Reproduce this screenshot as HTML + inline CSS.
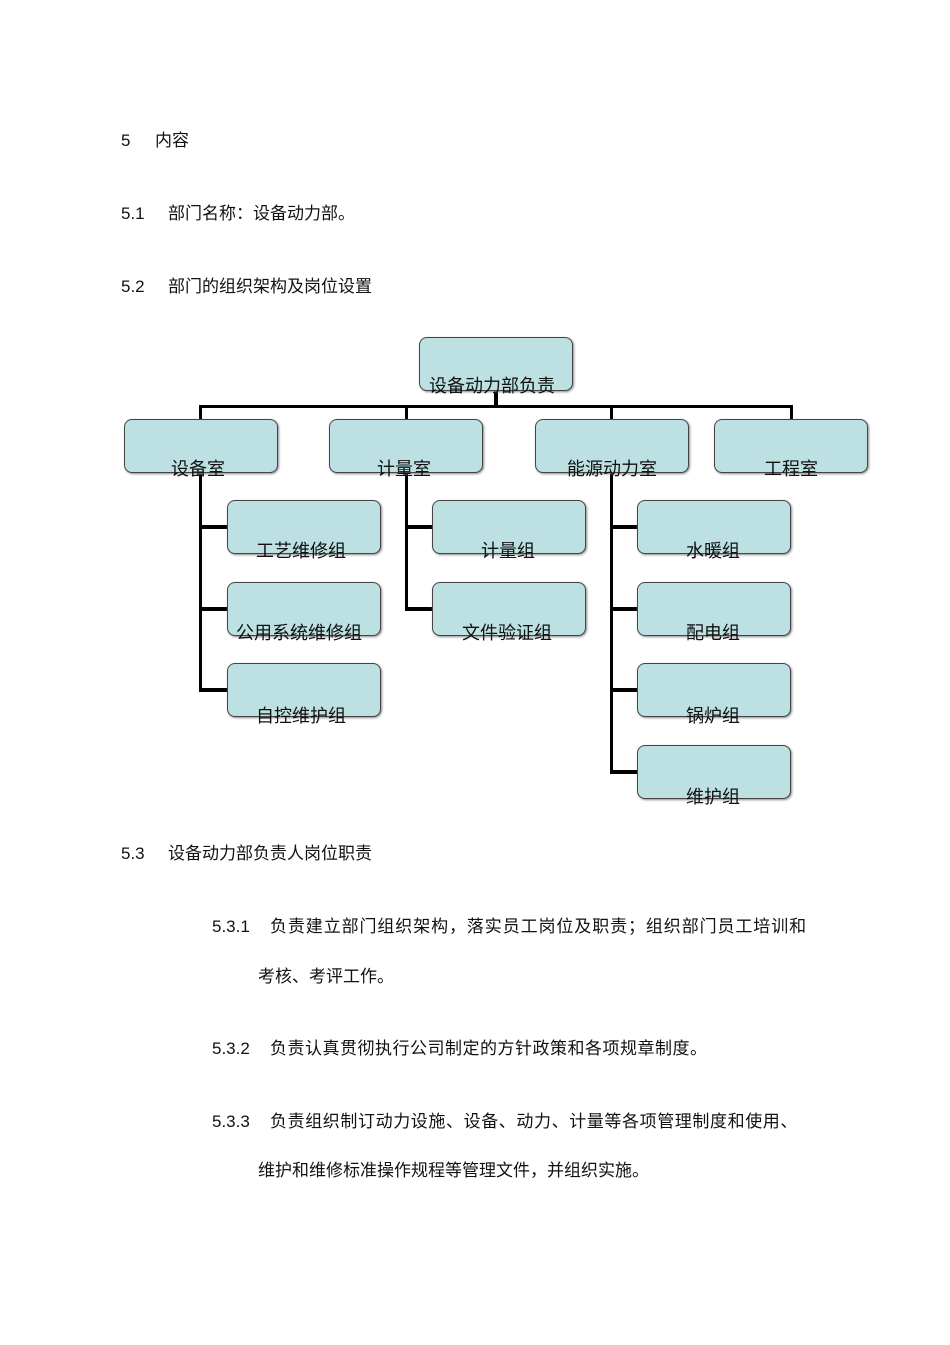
<!DOCTYPE html>
<html><head><meta charset="utf-8"><style>
body{margin:0;width:950px;height:1345px;background:#fff;position:relative;font-family:"Liberation Sans","Noto Sans CJK SC",sans-serif;color:#111;overflow:hidden}
.t{position:absolute;font-size:17px;line-height:20px;white-space:nowrap;margin-top:2px}
.b{position:absolute;width:152px;height:52px;background:#bde0e3;border:1.5px solid #444;border-radius:8px;box-sizing:content-box;box-shadow:1px 1px 2px #888}
.l{position:absolute;width:154px;text-align:center;font-size:18px;line-height:20px;white-space:nowrap;margin-top:1px}
.h{position:absolute;background:#000}
</style></head><body>
<div class="t" style="left:121px;top:129px">5</div><div class="t" style="left:155px;top:129px">内容</div>
<div class="t" style="left:121px;top:202px">5.1</div><div class="t" style="left:168px;top:202px">部门名称：设备动力部。</div>
<div class="t" style="left:121px;top:275px">5.2</div><div class="t" style="left:168px;top:275px">部门的组织架构及岗位设置</div>
<div class="t" style="left:121px;top:842px">5.3</div><div class="t" style="left:168px;top:842px">设备动力部负责人岗位职责</div>
<div class="t" style="left:212px;top:915px">5.3.1</div><div class="t" style="left:270px;top:915px;letter-spacing:0.9px">负责建立部门组织架构，落实员工岗位及职责；组织部门员工培训和</div>
<div class="t" style="left:258px;top:965px">考核、考评工作。</div>
<div class="t" style="left:212px;top:1037px">5.3.2</div><div class="t" style="left:270px;top:1037px;letter-spacing:0.5px">负责认真贯彻执行公司制定的方针政策和各项规章制度。</div>
<div class="t" style="left:212px;top:1110px">5.3.3</div><div class="t" style="left:270px;top:1110px;letter-spacing:0.6px">负责组织制订动力设施、设备、动力、计量等各项管理制度和使用、</div>
<div class="t" style="left:258px;top:1159px">维护和维修标准操作规程等管理文件，并组织实施。</div>

<!-- connectors -->
<div class="h" style="left:494px;top:390px;width:4px;height:18px"></div>
<div class="h" style="left:199px;top:405px;width:594px;height:3px"></div>
<div class="h" style="left:199px;top:405px;width:3px;height:15px"></div>
<div class="h" style="left:405px;top:405px;width:3px;height:15px"></div>
<div class="h" style="left:610px;top:405px;width:3px;height:15px"></div>
<div class="h" style="left:790px;top:405px;width:3px;height:15px"></div>
<div class="h" style="left:199px;top:472px;width:3px;height:220px"></div>
<div class="h" style="left:199px;top:525px;width:30px;height:4px"></div>
<div class="h" style="left:199px;top:607px;width:30px;height:4px"></div>
<div class="h" style="left:199px;top:688px;width:30px;height:4px"></div>
<div class="h" style="left:405px;top:472px;width:3px;height:139px"></div>
<div class="h" style="left:405px;top:525px;width:28px;height:4px"></div>
<div class="h" style="left:405px;top:607px;width:28px;height:4px"></div>
<div class="h" style="left:610px;top:472px;width:3px;height:302px"></div>
<div class="h" style="left:610px;top:525px;width:29px;height:4px"></div>
<div class="h" style="left:610px;top:607px;width:29px;height:4px"></div>
<div class="h" style="left:610px;top:688px;width:29px;height:4px"></div>
<div class="h" style="left:610px;top:770px;width:29px;height:4px"></div>

<!-- boxes -->
<div class="b" style="left:419px;top:337px"></div><div class="l" style="left:415px;top:375px">设备动力部负责</div>
<div class="b" style="left:124px;top:419px"></div><div class="l" style="left:121px;top:458px">设备室</div>
<div class="b" style="left:329px;top:419px"></div><div class="l" style="left:327px;top:458px">计量室</div>
<div class="b" style="left:535px;top:419px"></div><div class="l" style="left:535px;top:458px">能源动力室</div>
<div class="b" style="left:714px;top:419px"></div><div class="l" style="left:714px;top:458px">工程室</div>
<div class="b" style="left:227px;top:500px"></div><div class="l" style="left:224px;top:540px">工艺维修组</div>
<div class="b" style="left:227px;top:582px"></div><div class="l" style="left:222px;top:622px">公用系统维修组</div>
<div class="b" style="left:227px;top:663px"></div><div class="l" style="left:224px;top:705px">自控维护组</div>
<div class="b" style="left:432px;top:500px"></div><div class="l" style="left:431px;top:540px">计量组</div>
<div class="b" style="left:432px;top:582px"></div><div class="l" style="left:430px;top:622px">文件验证组</div>
<div class="b" style="left:637px;top:500px"></div><div class="l" style="left:636px;top:540px">水暖组</div>
<div class="b" style="left:637px;top:582px"></div><div class="l" style="left:636px;top:622px">配电组</div>
<div class="b" style="left:637px;top:663px"></div><div class="l" style="left:636px;top:705px">锅炉组</div>
<div class="b" style="left:637px;top:745px"></div><div class="l" style="left:636px;top:786px">维护组</div>
</body></html>
